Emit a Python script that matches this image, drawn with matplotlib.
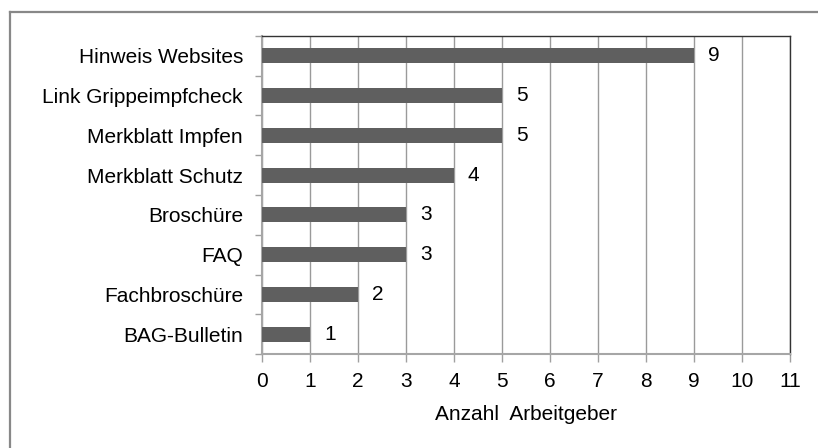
import matplotlib
matplotlib.use("Agg")
import matplotlib.pyplot as plt
from matplotlib.lines import Line2D
import numpy as np

plt.rcParams['font.family'] = ['Liberation Sans', 'DejaVu Sans']

categories = ["Hinweis Websites", "Link Grippeimpfcheck", "Merkblatt Impfen",
              "Merkblatt Schutz", "Broschüre", "FAQ", "Fachbroschüre", "BAG-Bulletin"]
values = [9, 5, 5, 4, 3, 3, 2, 1]
xticks = list(range(0, 12))
xlabel = "Anzahl  Arbeitgeber"

W, H = 818, 448
fig = plt.figure(figsize=(W / 100, H / 100), dpi=100)
ax = fig.add_axes([262 / W, (H - 354) / H, (790 - 262) / W, (354 - 36) / H])

y = np.arange(len(categories))
ax.barh(y, values, height=0.38, color="#5f5f5f", zorder=3)
ax.set_ylim(len(categories) - 0.5, -0.5)
ax.set_xlim(0, 11)

ax.set_xticks(xticks)
ax.set_xticklabels([str(t) for t in xticks], fontsize=15)
ax.set_yticks(y)
ax.set_yticklabels(categories, fontsize=15)
ax.set_yticks(np.arange(-0.5, len(categories) + 0.5, 1), minor=True)
ax.tick_params(axis='y', which='major', length=0, pad=19 * 0.72)
ax.tick_params(axis='y', which='minor', length=5, width=1, color="#a0a0a0", direction='out')
ax.tick_params(axis='x', which='major', length=6, width=1, color="#a0a0a0", pad=7)

ax.grid(axis='x', color="#9a9a9a", linewidth=1, zorder=0)
ax.set_axisbelow(True)

for s in ['left', 'bottom']:
    ax.spines[s].set_color("#a6a6a6")
    ax.spines[s].set_linewidth(1.5)
for s in ['top', 'right']:
    ax.spines[s].set_color("#333333")
    ax.spines[s].set_linewidth(1)

for yi, v in zip(y, values):
    ax.annotate(str(v), xy=(v, yi), xytext=(10, 0), textcoords='offset points',
                ha='left', va='center', fontsize=15, color='black')

ax.set_xlabel(xlabel, fontsize=15, labelpad=10)

# outer frame (top and left edges)
fig.add_artist(Line2D([9.5 / W, 9.5 / W], [0, 1 - 12 / H], transform=fig.transFigure,
                      color="#888888", linewidth=1.6))
fig.add_artist(Line2D([9.5 / W, 1], [1 - 12 / H, 1 - 12 / H], transform=fig.transFigure,
                      color="#888888", linewidth=1.6))

fig.savefig("out.png", dpi=100)
